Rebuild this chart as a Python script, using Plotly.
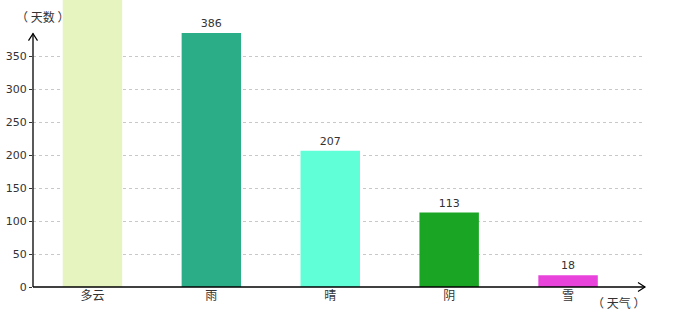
import plotly.graph_objects as go

categories = ["多云", "雨", "晴", "阴", "雪"]
days = [520, 386, 207, 113, 18]
labels = ["", "386", "207", "113", "18"]
colors = ["#e6f5c0", "#2bae87", "#60ffd8", "#1aa624", "#e844db"]
y_ticks = [0, 50, 100, 150, 200, 250, 300, 350]

num_font = dict(family="DejaVu Sans, Verdana, sans-serif", size=11, color="#333333")
cjk_font = dict(family="Noto Sans CJK SC, sans-serif", size=12, color="#333333")

fig = go.Figure(go.Bar(
    x=categories, y=days, marker=dict(color=colors, line=dict(width=0)),
    width=0.5, text=labels, textposition="outside", cliponaxis=True,
    textfont=num_font,
))

x_lo, x_hi = -0.5, 4.647
y_max = 436
y_top = 385 / y_max  # paper fraction for arrow tip

fig.update_layout(
    width=680, height=320, margin=dict(l=33, r=35, t=0, b=33),
    plot_bgcolor="white", paper_bgcolor="white", showlegend=False,
    bargap=0.5,
    xaxis=dict(range=[x_lo, x_hi], showgrid=False, showline=False, zeroline=False,
               ticks="", tickfont=cjk_font, fixedrange=True),
    yaxis=dict(range=[0, y_max], tickvals=y_ticks, showgrid=True, gridcolor="#c8c8c8",
               griddash="3px,3px", gridwidth=1, zeroline=False, showline=False,
               ticks="outside", ticklen=3, tickcolor="#333333", tickfont=num_font),
    font=num_font,
)

dx = 4.5 / 612
dy = 7 / 287
# axis lines with open arrowheads (paper coords so they are not clipped)
fig.add_shape(type="line", xref="paper", yref="paper", x0=0, x1=1, y0=0, y1=0,
              line=dict(color="black", width=1.3))
fig.add_shape(type="line", xref="paper", yref="paper", x0=0, x1=0, y0=0, y1=y_top,
              line=dict(color="black", width=1.3))
fig.add_shape(type="path", xref="paper", yref="paper",
              path=f"M {-dx} {y_top-dy} L 0 {y_top} L {dx} {y_top-dy}",
              line=dict(color="black", width=1.2))
dx2 = 7 / 612
dy2 = 4.5 / 287
fig.add_shape(type="path", xref="paper", yref="paper",
              path=f"M {1-dx2} {dy2} L 1 0 L {1-dx2} {-dy2}",
              line=dict(color="black", width=1.2))

fig.add_annotation(text="（ 天数 ）", xref="paper", yref="paper", x=0.0, y=1.0,
                   xanchor="left", yanchor="top", showarrow=False, font=cjk_font,
                   xshift=-19, yshift=-6)
fig.add_annotation(text="（ 天气 ）", x=x_hi, y=0, xref="x", yref="y",
                   xanchor="right", yanchor="top", showarrow=False, font=cjk_font,
                   yshift=-5, xshift=2)

fig.write_html("out.html")
